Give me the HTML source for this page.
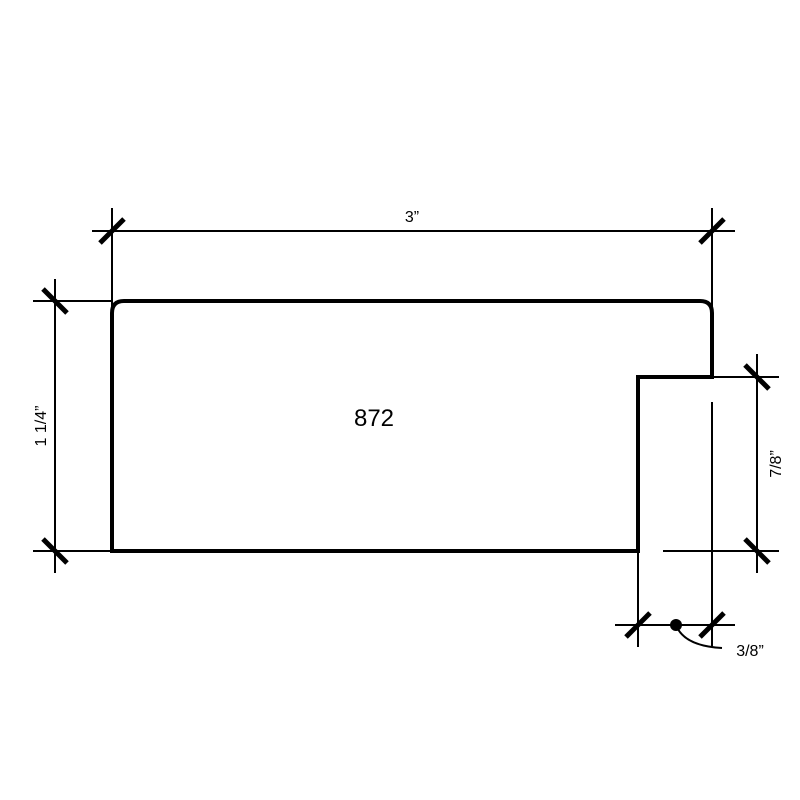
<!DOCTYPE html>
<html><head><style>html,body{margin:0;padding:0;background:#fff}svg{display:block}</style></head>
<body>
<svg width="800" height="800" viewBox="0 0 800 800" xmlns="http://www.w3.org/2000/svg">
<g stroke="#000" fill="none" stroke-width="2">
  <!-- top dim -->
  <line x1="92" y1="231" x2="735" y2="231"/>
  <line x1="112" y1="208" x2="112" y2="551"/>
  <line x1="712" y1="208" x2="712" y2="377"/>
  <!-- left dim -->
  <line x1="55" y1="279" x2="55" y2="573"/>
  <line x1="33" y1="301" x2="112" y2="301"/>
  <line x1="33" y1="551" x2="112" y2="551"/>
  <!-- right dim -->
  <line x1="757" y1="354" x2="757" y2="573"/>
  <line x1="712" y1="377" x2="779" y2="377"/>
  <line x1="663" y1="551" x2="779" y2="551"/>
  <line x1="712" y1="402" x2="712" y2="647"/>
  <line x1="638" y1="551" x2="638" y2="647"/>
  <!-- bottom dim -->
  <line x1="615" y1="625" x2="735" y2="625"/>
  <path d="M676 625 Q684 646 722 648"/>
</g>
<g stroke="#000" stroke-width="5">
  <line x1="100" y1="243" x2="124" y2="219"/>
  <line x1="700" y1="243" x2="724" y2="219"/>
  <line x1="43" y1="289" x2="67" y2="313"/>
  <line x1="43" y1="539" x2="67" y2="563"/>
  <line x1="745" y1="365" x2="769" y2="389"/>
  <line x1="745" y1="539" x2="769" y2="563"/>
  <line x1="626" y1="637" x2="650" y2="613"/>
  <line x1="700" y1="637" x2="724" y2="613"/>
</g>
<path d="M112 551 L112 313 Q112 301 124 301 L700 301 Q712 301 712 313 L712 377 L638 377 L638 551 Z" fill="none" stroke="#000" stroke-width="4" stroke-linejoin="miter"/>
<circle cx="676" cy="625" r="6" fill="#000"/>
<g font-family="Liberation Sans, sans-serif" fill="#000">
  <text x="412" y="222" font-size="16" text-anchor="middle">3”</text>
  <text x="374" y="426" font-size="24" text-anchor="middle">872</text>
  <text x="750" y="656" font-size="16" text-anchor="middle">3/8”</text>
  <text transform="translate(46 426) rotate(-90)" font-size="16" text-anchor="middle">1 1/4”</text>
  <text transform="translate(781 464) rotate(-90)" font-size="16" text-anchor="middle">7/8”</text>
</g>
</svg>
</body></html>
